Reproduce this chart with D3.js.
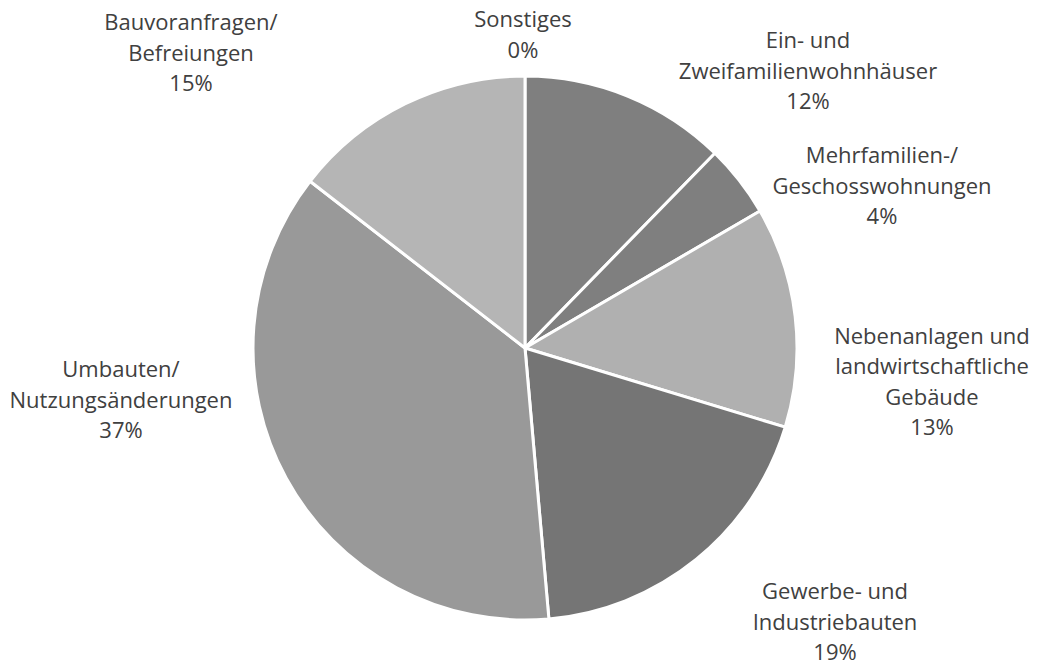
<!DOCTYPE html>
<html><head><meta charset="utf-8">
<script src="https://cdn.jsdelivr.net/npm/d3@7/dist/d3.min.js"></script>
<style>
html,body{margin:0;padding:0;background:#fff;}
svg text{font-family:"Open Sans",sans-serif;fill:#404040;}
</style></head>
<body>
<svg id="chart" width="1038" height="667"></svg>
<script>
const categories = ["Sonstiges","Ein- und Zweifamilienwohnhäuser","Mehrfamilien-/ Geschosswohnungen","Nebenanlagen und landwirtschaftliche Gebäude","Gewerbe- und Industriebauten","Umbauten/ Nutzungsänderungen","Bauvoranfragen/ Befreiungen"];
const values = [0, 12.3, 4.3, 13.1, 18.9, 36.9, 14.5];
const percentLabels = ["0%","12%","4%","13%","19%","37%","15%"];
const labelLines = [
  ["Sonstiges"],
  ["Ein- und","Zweifamilienwohnhäuser"],
  ["Mehrfamilien-/","Geschosswohnungen"],
  ["Nebenanlagen und","landwirtschaftliche","Gebäude"],
  ["Gewerbe- und","Industriebauten"],
  ["Umbauten/","Nutzungsänderungen"],
  ["Bauvoranfragen/","Befreiungen"]
];
const colors = ["#a0a0a0","#7f7f7f","#7f7f7f","#b0b0b0","#757575","#999999","#b5b5b5"];
// label block centre positions (layout)
const labelAnchors = [[523,35],[808,71],[882,186],[932,382],[835,622],[121,400],[191,53]];

const svg = d3.select("#chart");
const cx = 525, cy = 348, r = 272;
const g = svg.append("g").attr("transform",`translate(${cx},${cy})`);
const pie = d3.pie().sort(null).value(d=>d)(values);
const arc = d3.arc().innerRadius(0).outerRadius(r);
g.selectAll("path").data(pie).enter().append("path")
  .attr("d",arc).attr("fill",(d,i)=>colors[i])
  .attr("stroke","#fff").attr("stroke-width",3).attr("stroke-linejoin","round");

const lh = 30.5, fs = 22;
labelLines.forEach((lines,i)=>{
  const all = lines.concat([percentLabels[i]]);
  const [x,y] = labelAnchors[i];
  const t = svg.append("text").attr("text-anchor","middle").attr("font-size",fs);
  const y0 = y - (all.length-1)*lh/2 + fs*0.35;
  all.forEach((s,k)=>t.append("tspan").attr("x",x).attr("y",y0+k*lh).text(s));
});
</script>
</body></html>
